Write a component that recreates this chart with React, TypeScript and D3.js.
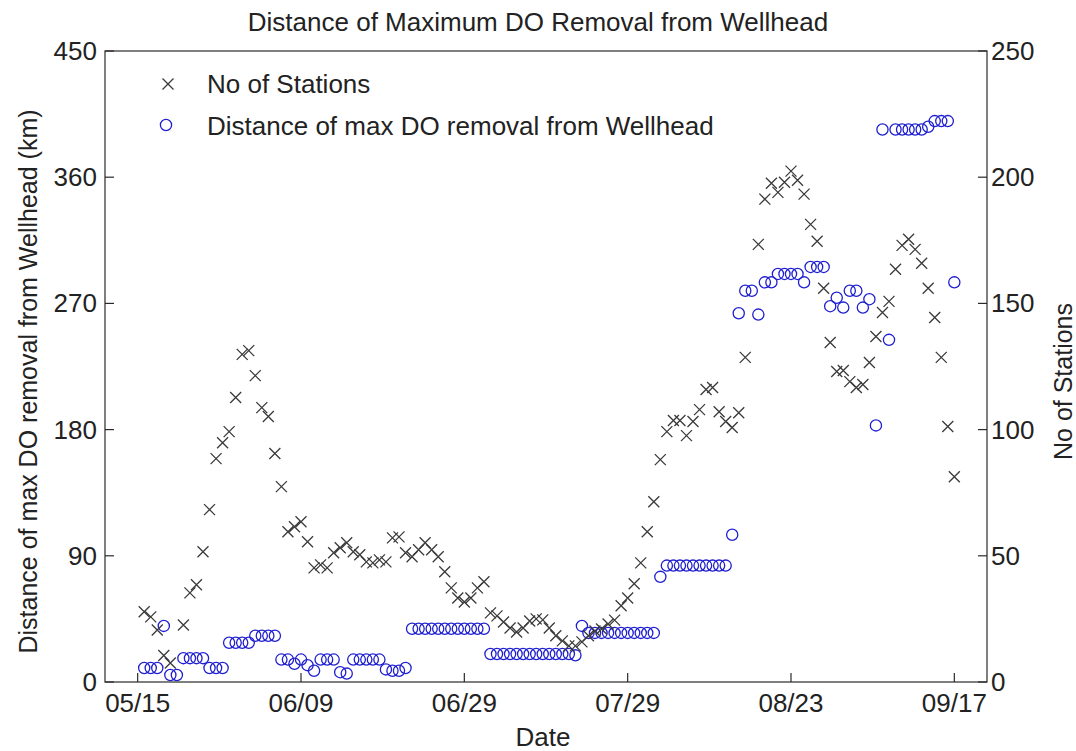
import React from "react";
import * as d3 from "d3";

const sampleIndex: number[] = Array.from({ length: 126 }, (_, i) => i);

const stations: (number | null)[] = [
  null, 27.8, 25.8, 20.6, 10.5, 7.5, null, 22.6, 35.3, 38.5,
  51.6, 68.3, 88.5, 94.8, 99.2, 112.7, 129.8, 131.3, 121.4, 108.7,
  105.2, 90.5, 77.4, 59.5, 61.5, 63.5, 55.6, 45.2, 46.4, 45.2,
  51.2, 53.2, 55.2, 51.6, 50.4, 47.6, 47.2, 48.4, 47.6, 57.1,
  57.5, 51.2, 49.6, 52.4, 55.2, 52.4, 49.6, 43.7, 37.3, 33.3,
  31.7, 33.3, 37.3, 39.7, 27.4, 26.2, 23.8, 21.4, 19.8, 21.4,
  24.2, 25.0, 24.6, 21.4, 18.3, 16.3, 14.3, 14.3, 15.9, 18.3,
  20.2, 21.0, 23.0, 24.5, 30.2, 33.3, 38.9, 47.2, 59.5, 71.4,
  88.1, 99.2, 103.6, 103.6, 97.6, 103.2, 107.9, 115.9, 116.7, 107.1,
  103.2, 100.8, 106.7, 128.6, null, 173.4, 191.3, 197.6, 194.0, 198.0,
  202.4, 198.8, 193.3, 181.3, 174.6, 156.0, 134.5, 123.0, 123.4, 119.0,
  116.7, 117.9, 126.6, 136.9, 146.4, 150.8, 163.5, 173.0, 175.4, 171.4,
  165.9, 156.0, 144.4, 128.6, 101.2, 81.3,
];

const distanceKm: (number | null)[] = [
  null, 10, 10, 10, 40, 5, 5, 17, 17, 17,
  17, 10, 10, 10, 28, 28, 28, 28, 33, 33,
  33, 33, 16, 16, 13, 16, 12, 8, 16, 16,
  16, 7, 6, 16, 16, 16, 16, 16, 9, 8,
  8, 10, 38, 38, 38, 38, 38, 38, 38, 38,
  38, 38, 38, 38, 20, 20, 20, 20, 20, 20,
  20, 20, 20, 20, 20, 20, 20, 19, 40, 35,
  35, 35, 35, 35, 35, 35, 35, 35, 35, 35,
  75, 83, 83, 83, 83, 83, 83, 83, 83, 83,
  83, 105, 263, 279, 279, 262, 285, 285, 291, 291,
  291, 291, 285, 296, 296, 296, 268, 274, 267, 279,
  279, 267, 273, 183, 394, 244, 394, 394, 394, 394,
  394, 396, 400, 400, 400, 285,
];

const xTickIndex: number[] = [0, 25, 50, 75, 100, 125];
const xTickLabels: string[] = ["05/15", "06/09", "06/29", "07/29", "08/23", "09/17"];
const leftTicks: number[] = [0, 90, 180, 270, 360, 450];
const rightTicks: number[] = [0, 50, 100, 150, 200, 250];

const W = 1076;
const H = 751;
const L = 105;
const R = 987;
const T = 51;
const B = 682;
const FONT = "Arial, 'Liberation Sans', sans-serif";
const TXT = "#222";
const FS = 26;

export default function App() {
  const x = d3.scaleLinear().domain([-5, 130]).range([L, R]);
  const yL = d3.scaleLinear().domain([0, 450]).range([B, T]);
  const yR = d3.scaleLinear().domain([0, 250]).range([B, T]);
  const xs = 5.5;
  const cr = 5.6;

  return (
    <svg
      width={W}
      height={H}
      style={{ position: "absolute", left: 0, top: 0, background: "#fff" }}
      fontFamily={FONT}
    >
      <rect x={0} y={0} width={W} height={H} fill="#fff" />
      <g fill="none" stroke="#1f1fd0" strokeWidth={1.3}>
        {sampleIndex.map((i) =>
          distanceKm[i] == null ? null : (
            <circle key={"c" + i} cx={x(i)} cy={yL(distanceKm[i] as number)} r={cr} />
          )
        )}
      </g>
      <g stroke="#3a3a3a" strokeWidth={1.3}>
        {sampleIndex.map((i) => {
          const v = stations[i];
          if (v == null) return null;
          const cx = x(i);
          const cy = yR(v);
          return (
            <path
              key={"x" + i}
              d={`M${cx - xs},${cy - xs}L${cx + xs},${cy + xs}M${cx - xs},${cy + xs}L${cx + xs},${cy - xs}`}
            />
          );
        })}
      </g>
      <rect x={L} y={T} width={R - L} height={B - T} fill="none" stroke="#2a2a2a" strokeWidth={1.2} />
      <g stroke="#2a2a2a" strokeWidth={1.2}>
        {xTickIndex.map((t) => (
          <line key={"bt" + t} x1={x(t)} x2={x(t)} y1={B} y2={B - 9} />
        ))}
        {leftTicks.map((t) => (
          <line key={"lt" + t} x1={L} x2={L + 9} y1={yL(t)} y2={yL(t)} />
        ))}
        {rightTicks.map((t) => (
          <line key={"rt" + t} x1={R} x2={R - 9} y1={yR(t)} y2={yR(t)} />
        ))}
      </g>
      <g fontSize={FS} fill={TXT}>
        {xTickIndex.map((t, k) => (
          <text key={"bl" + t} x={x(t)} y={B + 30} textAnchor="middle">
            {xTickLabels[k]}
          </text>
        ))}
        {leftTicks.map((t) => (
          <text key={"ll" + t} x={L - 8} y={yL(t) + 9} textAnchor="end">
            {t}
          </text>
        ))}
        {rightTicks.map((t) => (
          <text key={"rl" + t} x={R + 4} y={yR(t) + 9} textAnchor="start">
            {t}
          </text>
        ))}
      </g>
      <text x={(L + R) / 2 - 8} y={31} textAnchor="middle" fontSize={FS} fill={TXT}>
        Distance of Maximum DO Removal from Wellhead
      </text>
      <text x={(L + R) / 2 - 3} y={746} textAnchor="middle" fontSize={FS} fill={TXT}>
        Date
      </text>
      <text
        transform={`translate(37,${(T + B) / 2 + 15}) rotate(-90)`}
        textAnchor="middle"
        fontSize={25}
        fill={TXT}
      >
        Distance of max DO removal from Wellhead (km)
      </text>
      <text
        transform={`translate(1072,${(T + B) / 2 + 15}) rotate(-90)`}
        textAnchor="middle"
        fontSize={25}
        fill={TXT}
      >
        No of Stations
      </text>
      <g>
        <path
          d={`M${168 - xs},${84 - xs}L${168 + xs},${84 + xs}M${168 - xs},${84 + xs}L${168 + xs},${84 - xs}`}
          stroke="#3a3a3a"
          strokeWidth={1.3}
        />
        <text x={207} y={93} fontSize={FS} fill={TXT}>
          No of Stations
        </text>
        <circle cx={166} cy={125} r={cr} fill="none" stroke="#1f1fd0" strokeWidth={1.3} />
        <text x={207} y={135} fontSize={FS} fill={TXT}>
          Distance of max DO removal from Wellhead
        </text>
      </g>
    </svg>
  );
}
